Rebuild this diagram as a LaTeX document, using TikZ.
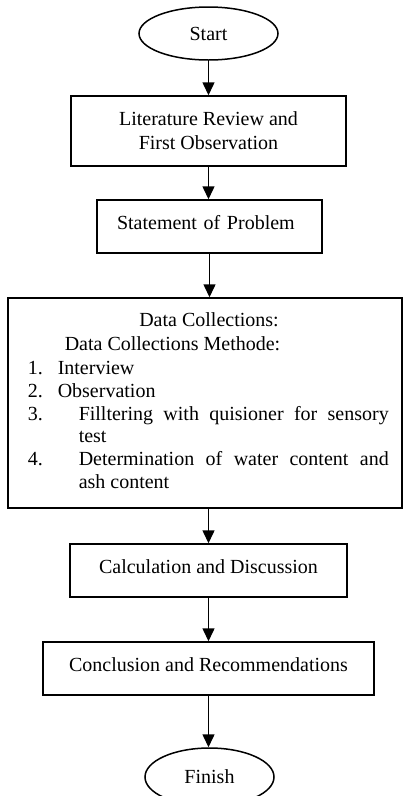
\documentclass[tikz,border=0pt]{standalone}
\usepackage{fontspec}
\setmainfont{Liberation Serif}
\usepackage{tikz}
\usetikzlibrary{arrows.meta,shapes.geometric}

\tikzset{
  box/.style={draw,rectangle,inner sep=0pt,text height=14pt,text depth=8pt},
  oval/.style={draw,ellipse,inner sep=0pt,text height=14pt,text depth=1pt},
  txt/.style={anchor=base west,inner sep=0pt}
}

\begin{document}
\begin{tikzpicture}[x=1pt,y=-1pt,font=\fontsize{20}{24}\selectfont]
\useasboundingbox (0,0) rectangle (403,796);
\begin{scope}[>={Triangle[length=13pt,width=12pt]},line width=1.5pt]
    \node[oval,minimum width=139pt,minimum height=53pt] (start) at (208.5,33.5) {Start};

    \node[draw,inner sep=0pt,align=center,minimum width=275pt,minimum height=70pt]
        (review) at (208.5,131) {Literature Review and\\First Observation};

    \node[box,text width=185pt,align=left,inner xsep=20pt,minimum height=53pt]
        (problem) at (209.5,226.5) {Statement of Problem};

    % data collection box and its list
    \node[box,minimum width=394pt,minimum height=210pt] (data) at (205,403) {};
    \node[anchor=base,inner sep=0pt] (datahead) at (209,326) {Data Collections:};
    \node[txt] (method) at (64,350) {Data Collections Methode:};
    \node[txt] (num1) at (27,374) {1.};
    \node[txt] (item1) at (57,374) {Interview};
    \node[txt] (num2) at (27,397) {2.};
    \node[txt] (item2) at (57,397) {Observation};
    \node[txt] (num3) at (27,420) {3.};
    \node[txt] (item3) at (78,420) {\makebox[310pt][s]{Filltering with quisioner for sensory}};
    \node[txt] (item3b) at (78,442) {test};
    \node[txt] (num4) at (27,465) {4.};
    \node[txt] (item4) at (78,465) {\makebox[310pt][s]{Determination of water content and}};
    \node[txt] (item4b) at (78,488) {ash content};

    \node[box,minimum width=277pt,minimum height=53pt] (calc) at (208.5,570.5) {Calculation and Discussion};
    \node[box,minimum width=331pt,minimum height=53pt] (concl) at (208.5,668.5) {Conclusion and Recommendations};
    \node[oval,minimum width=129pt,minimum height=58pt] (finish) at (209.5,777) {Finish};

    \draw[->] (start.south) -- (review.north);
    \draw[->] (review.south) -- (review.south |- problem.north);
    \draw[->] (problem.south) -- (problem.south |- data.north);
    \draw[->] (data.south -| calc.north) -- (calc.north);
    \draw[->] (calc.south) -- (concl.north);
    \draw[->] (concl.south) -- (concl.south |- finish.north);
\end{scope}
\end{tikzpicture}
\end{document}
